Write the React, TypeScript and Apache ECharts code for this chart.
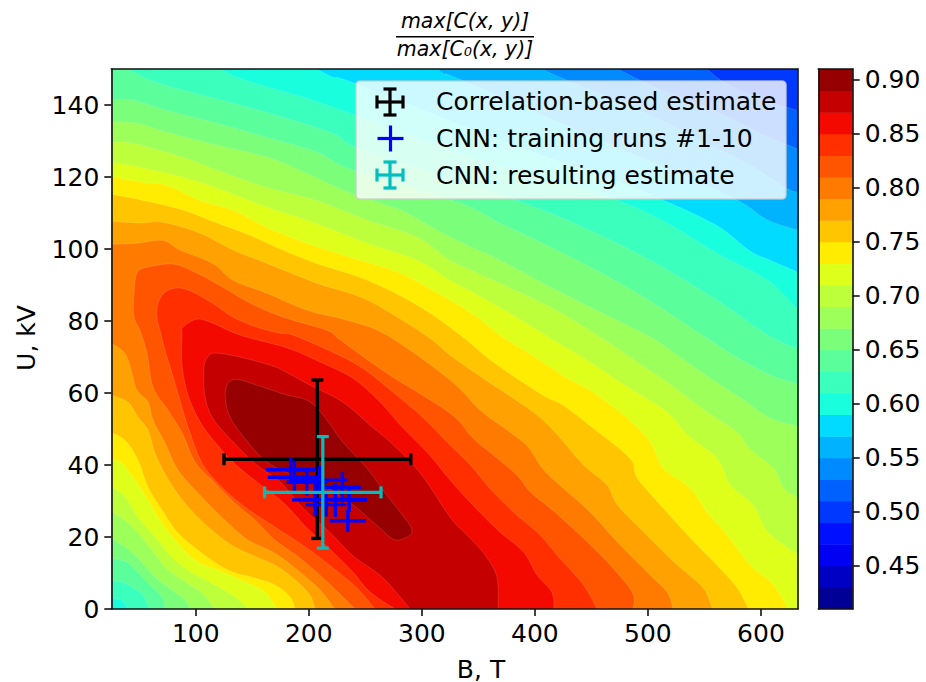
import React, { useEffect, useRef } from "react";
import * as echarts from "echarts";

type Pt = number[];

const B_MIN = 25.3;
const B_MAX = 632.5;
const U_MIN = 0;
const U_MAX = 150;
const CBAR_MIN = 0.41;
const CBAR_MAX = 0.91;

const xTickValues = [100, 200, 300, 400, 500, 600];
const yTickValues = [0, 20, 40, 60, 80, 100, 120, 140];
const cbarTickValues = [0.45, 0.5, 0.55, 0.6, 0.65, 0.7, 0.75, 0.8, 0.85, 0.9];
const levels = [
  0.41, 0.43, 0.45, 0.47, 0.49, 0.51, 0.53, 0.55, 0.57, 0.59, 0.61, 0.63, 0.65,
  0.67, 0.69, 0.71, 0.73, 0.75, 0.77, 0.79, 0.81, 0.83, 0.85, 0.87, 0.89, 0.91,
];

// Contours, as [B, U]
const c51: Pt[] = [[552, 150], [567, 146.3], [588, 143.2], [611, 140.5], [633, 138.5]];
const c53: Pt[] = [[473, 150], [502, 145.5], [529, 142.1], [573, 136.3], [599, 132.1], [633, 127.7]];
const c55: Pt[] = [[407, 150], [422, 147.7], [493, 138.5], [546, 130.2], [590, 123.3], [623, 116.8], [633, 115.8]];
const c57: Pt[] = [[313.5, 150], [322, 148.2], [334, 147.1], [458, 130.2], [546, 118.5], [584, 112.7], [606, 108], [633, 105.2]];
const c59: Pt[] = [[207, 150], [221.5, 147.7], [241, 146], [369, 130.2], [458, 120.5], [514, 113.5], [561, 106.5], [590, 99.5], [608, 96.9], [633, 93.5]];
const c61: Pt[] = [[121.5, 150], [139, 147.4], [168, 144.6], [198.5, 141.8], [234, 138], [325, 127.4], [414, 119.1], [473, 113.5], [517, 107.2], [561, 98.8], [606, 91.3], [633, 83]];
const c61low: Pt[] = [[40, 0], [34.8, 2.5], [25.3, 3.1]];
const c63: Pt[] = [[40, 150], [59.6, 146.9], [88.8, 144.1], [133, 140.5], [177, 136.6], [221.5, 132.1], [241, 128.3], [307, 121.3], [384, 113.5], [443, 106], [502, 96.9], [561, 85.8], [606, 76.1], [633, 72.2]];
const c63low: Pt[] = [[59.6, 0], [52.5, 4.4], [37.4, 7.2], [25.3, 8.1]];
const c65: Pt[] = [[25.3, 141.6], [44.5, 141.3], [74.6, 138.5], [119, 134.9], [163, 131], [207, 126.9], [239, 121.9], [334, 112.7], [369, 107.2], [414, 100.5], [458, 93.5], [502, 85.5], [548, 76.1], [575.5, 70.5], [608, 65], [633, 62.5]];
const c65low: Pt[] = [[72.8, 0], [70.2, 3.3], [55.1, 8.1], [40, 12.8], [25.3, 14.2]];
const c67: Pt[] = [[25.3, 135.2], [48, 134.9], [74.6, 132.4], [119, 128.8], [163, 125.5], [198.5, 121], [236.6, 115.5], [281, 110.8], [325, 103.3], [369, 96.9], [414, 89.4], [458, 82.4], [499, 76.1], [526, 70.5], [555, 64.1], [582, 58.6], [608, 53], [633, 50.8]];
const c67low: Pt[] = [[95, 0], [90.5, 2.5], [79, 5.3], [63.9, 8.9], [48.9, 14.2], [37.4, 17.2], [25.3, 19.7]];
const c69: Pt[] = [[25.3, 129.6], [44.5, 129.4], [88.8, 125.5], [119, 121.9], [163, 117.1], [207, 113.5], [252, 108], [296, 103.3], [325, 96.9], [369, 90.5], [414, 83.8], [455, 76.1], [490.5, 68.6], [517, 63], [552.5, 54.7], [579, 49.1], [590, 44.5], [611, 39.1], [620, 33.6], [633, 30.8]];
const c69low: Pt[] = [[117, 0], [105.6, 4.4], [87.9, 8.1], [72.8, 11.7], [61.3, 16.4], [48.9, 21.1], [37.4, 24.7], [25.3, 26.9]];
const c71: Pt[] = [[25.3, 124.1], [50.7, 122.7], [88.8, 119.9], [119, 116.9], [163, 111.6], [198.5, 108], [252, 101.6], [296, 96.9], [325, 91.3], [369, 83.8], [409, 76.1], [443, 69.7], [484, 61.3], [517, 54.7], [535, 48.3], [561, 41.9], [573, 34.4], [593, 28.9], [606, 21.4], [633, 15]];
const c71low: Pt[] = [[146.3, 0], [134.8, 3.3], [117, 6.7], [96.7, 10], [79, 14.4], [64, 20], [48.9, 25.5], [37.4, 31.1], [25.3, 34.1]];
const c73: Pt[] = [[25.3, 120.2], [53.4, 118.5], [74.6, 117.7], [103.8, 113.5], [133, 110.8], [163, 106], [198.5, 101.6], [236.6, 97.7], [281, 93.3], [325, 85.8], [349, 81.1], [369, 76.1], [407, 68.6], [428.6, 64.1], [451.6, 60.2], [481.7, 53], [502, 46.4], [513.6, 39.1], [537.5, 33.6], [552.5, 26.9], [570, 20.5], [590.5, 12.2], [611, 6.7], [624, 0]];
const c73low: Pt[] = [[172, 0], [161.3, 4.7], [146.3, 7.2], [123.3, 10.3], [99.4, 13.6], [81.7, 19.2], [68.4, 24.7], [57.8, 30.3], [46.3, 35.8], [34.8, 40.5], [25.3, 41.6]];
const c75: Pt[] = [[25.3, 115.2], [53.4, 113.5], [88.8, 110.8], [119, 107.2], [148, 103.8], [177, 99.7], [207, 96], [252, 91.3], [296, 84.4], [334, 76.1], [363, 68.6], [407, 59.4], [425, 56.6], [451.6, 50.2], [484, 41.9], [490.5, 36.4], [513.6, 28], [537.5, 19.7], [561, 12.2], [579, 5.8], [589, 0]];
const c75low: Pt[] = [[188, 0], [183.5, 3.3], [170, 6.7], [152.5, 8.6], [128.6, 10.8], [105.6, 15.5], [84.3, 21.1], [70.2, 27.5], [57.8, 33.9], [48.9, 41.4], [37.4, 46.9], [25.3, 48.9]];
const c77: Pt[] = [[25.3, 107.7], [50.7, 107.2], [71, 107.4], [103.8, 104.4], [133, 99.7], [163, 96], [207, 90.5], [252, 85.8], [303, 76.1], [325, 70.5], [354, 64.1], [398.5, 54.7], [420, 48.3], [443, 40], [464, 34.4], [473, 28.9], [499, 20.5], [526, 12.2], [549, 5.8], [557, 0]];
const c77low: Pt[] = [[205.6, 0], [201, 3.9], [188, 8.1], [170, 12.2], [134.8, 17.2], [111, 22.8], [90.5, 29.4], [74.6, 36.6], [64, 43.3], [57.8, 49.7], [48.9, 53.3], [40, 57.5], [25.3, 59.4]];
const c79: Pt[] = [[25.3, 101.3], [48, 101.6], [71, 102.4], [86, 99.7], [115, 96], [133, 91.3], [163, 87.7], [198.5, 83], [234, 80.2], [269, 76.1], [325, 63.6], [351.6, 55.2], [375.5, 49.7], [394, 45], [406.5, 39.1], [422, 34.4], [449, 26.9], [473, 18.6], [502, 9.4], [517, 4.7], [522.4, 0]];
const c79low: Pt[] = [[223, 0], [210, 5.3], [192, 10.3], [170, 15.5], [146, 19.2], [123, 25.5], [102, 32.2], [84.3, 38.6], [72.8, 46.1], [62.2, 52.5], [57.8, 57.5], [48, 60.8], [43.6, 65.5], [37.4, 71], [25.3, 73.8]];
const c81: Pt[] = [[241, 0], [214.4, 8.1], [192, 14.2], [170, 19.2], [152.5, 24.7], [134.8, 29.4], [114.4, 35.8], [99.4, 40.8], [87.9, 48.9], [75.5, 55.2], [62.2, 61.6], [56.9, 71], [50.7, 77.4], [45.4, 81.1], [45.4, 87.7], [48, 93.3], [56.9, 94.9], [79.9, 95.8], [101, 93.3], [124, 89.4], [148, 85], [177, 81.1], [216, 77.4], [228, 74.7], [269, 65.5], [325, 54.4], [345, 47.5], [366.6, 41.9], [384, 37.2], [396, 32.5], [413.6, 28], [437, 21.4], [464, 13.1], [486, 4.7], [487, 0]];
const c83: Pt[] = [[258.7, 0], [242.7, 5.8], [221.5, 11.4], [198.5, 16.9], [170, 22.8], [143.6, 28.3], [123, 33.9], [105.6, 40.5], [93.2, 50.5], [86, 58], [79, 65.5], [72.8, 71.9], [68.4, 77.4], [65.7, 81.1], [66.6, 84.9], [72.8, 88], [84.3, 89.2], [97.6, 88], [115, 84.9], [133, 81.1], [154, 78.3], [174.6, 76.6], [186, 76.1], [221.5, 71.3], [248, 66.8], [274.6, 60.2], [298.5, 53.9], [325, 45.5], [342.8, 40], [363, 32.5], [384, 26.1], [404.7, 20.5], [422, 14.1], [443, 6.7], [455, 0]];
const c85: Pt[] = [[276.4, 0], [254.3, 4.7], [239, 10.3], [221.5, 15.8], [198.5, 22.5], [177, 29.7], [154, 35.3], [133, 40.8], [117, 46.4], [103.8, 52], [93.2, 59.4], [87.9, 67.7], [87.9, 76.1], [88.8, 78.3], [101, 80.5], [115, 79.4], [139, 76.1], [181, 72.5], [210, 68.6], [239, 64.1], [263, 57.5], [281, 51.1], [307, 42.7], [325, 35.8], [345, 28.9], [369, 21.4], [390, 15.8], [402, 9.4], [415, 4.7], [417, 0]];
const c87: Pt[] = [[289.6, 0], [265.8, 8.6], [239, 14.8], [219, 21.2], [195, 28], [174.6, 35.3], [154, 40], [133, 46.4], [115, 53], [108, 59.4], [107.3, 66.9], [110, 69.7], [117, 71.1], [139, 70], [166, 67.7], [177, 66.3], [201, 62.2], [230, 57.5], [254, 51.1], [272, 46.4], [298.5, 37.8], [325, 25.5], [340, 20.5], [354, 15.8], [365, 10.3], [367.5, 5.8], [367.5, 0]];
const c89: Pt[] = [[125.9, 60], [128.6, 62.7], [136.5, 63.8], [154, 62.2], [181, 59.4], [198.5, 58], [212.7, 53.9], [230, 46.4], [251.6, 39.1], [269, 31.6], [281, 26.9], [291.4, 21.9], [285, 19.7], [274.6, 19.4], [260, 23.3], [239, 28.9], [216, 33.6], [192, 36.4], [163, 40.8], [139, 49.1], [128.6, 54.7], [125.9, 60]];

const cornerBR: Pt = [B_MAX + 5, U_MIN - 5];
const cornerBL: Pt = [B_MIN - 5, U_MIN - 5];
const cornerTL: Pt = [B_MIN - 5, U_MAX + 5];

// band index -> outline pieces of the region f >= level
const outlines: Record<number, Pt[][]> = {
  5: [c51, [cornerBR, cornerBL, cornerTL]],
  6: [c53, [cornerBR, cornerBL, cornerTL]],
  7: [c55, [cornerBR, cornerBL, cornerTL]],
  8: [c57, [cornerBR, cornerBL, cornerTL]],
  9: [c59, [cornerBR, cornerBL, cornerTL]],
  10: [c61, [cornerBR], c61low, [cornerTL]],
  11: [c63, [cornerBR], c63low, [cornerTL]],
  12: [c65, [cornerBR], c65low],
  13: [c67, [cornerBR], c67low],
  14: [c69, [cornerBR], c69low],
  15: [c71, [cornerBR], c71low],
  16: [c73, c73low],
  17: [c75, c75low],
  18: [c77, c77low],
  19: [c79, c79low],
  20: [c81],
  21: [c83],
  22: [c85],
  23: [c87],
  24: [c89],
};

// Error bars [B, U, dB, dU]
const correlationEstimate = [207.6, 41.6, 82.6, 22];
const cnnEstimate = [212.4, 32.4, 51.5, 15.5];
const cnnRuns: Pt[] = [
  [184, 38.7, 21.7, 3.3],
  [187.3, 36.6, 23.6, 4.6],
  [198.2, 35.2, 17.9, 3.7],
  [209.4, 35.8, 24.6, 3.9],
  [229.7, 33.8, 16.3, 4.2],
  [215.3, 29, 18, 3.3],
  [223.5, 30.3, 27.4, 4.7],
  [205.6, 30.3, 20.4, 4.4],
  [234.5, 24.5, 16.2, 3.1],
  [235.7, 30.3, 15.8, 3.3],
];

const legendLabels = ["Correlation-based estimate", "CNN: training runs #1-10", "CNN: resulting estimate"];
const titleNumerator = "max[C(x, y)]";
const titleDenominator = "max[C₀(x, y)]";
const xName = "B, T";
const yName = "U, kV";

const FONT = "DejaVu Sans";
const BLACK = "#000000";
const BLUE = "#0000ff";
const TEAL = "#00bfbf";

function ramp(t: number, pts: number[][]): number {
  for (let i = 1; i < pts.length; i++) {
    if (t <= pts[i][0]) {
      const [a, va] = pts[i - 1];
      const [b, vb] = pts[i];
      return va + ((t - a) / (b - a)) * (vb - va);
    }
  }
  return pts[pts.length - 1][1];
}
function jet(t: number): string {
  const r = ramp(t, [[0, 0], [0.35, 0], [0.66, 1], [0.89, 1], [1, 0.5]]);
  const g = ramp(t, [[0, 0], [0.125, 0], [0.375, 1], [0.64, 1], [0.91, 0], [1, 0]]);
  const b = ramp(t, [[0, 0.5], [0.11, 1], [0.34, 1], [0.65, 0], [1, 0]]);
  return `rgb(${Math.round(r * 255)},${Math.round(g * 255)},${Math.round(b * 255)})`;
}
const bandColor = (i: number) => jet((i + 0.5) / (levels.length - 1));

function smoothPiece(p: Pt[]): Pt[] {
  if (p.length < 5) return p;
  const out: Pt[] = [];
  const steps = 6;
  for (let i = 0; i < p.length - 1; i++) {
    const p0 = p[Math.max(i - 1, 0)];
    const p1 = p[i];
    const p2 = p[i + 1];
    const p3 = p[Math.min(i + 2, p.length - 1)];
    for (let s = 0; s < steps; s++) {
      const t = s / steps;
      const f = (a: number, b: number, c: number, d: number) =>
        0.5 * (2 * b + (c - a) * t + (2 * a - 5 * b + 4 * c - d) * t * t + (3 * b - a - 3 * c + d) * t * t * t);
      out.push([f(p0[0], p1[0], p2[0], p3[0]), f(p0[1], p1[1], p2[1], p3[1])]);
    }
  }
  out.push(p[p.length - 1]);
  return out;
}

function errorBarShapes(api: any, v: number[], color: string, width: number, cap: number) {
  const c = api.coord([v[0], v[1]]);
  const l = api.coord([v[0] - v[2], v[1]]);
  const r = api.coord([v[0] + v[2], v[1]]);
  const t = api.coord([v[0], v[1] + v[3]]);
  const b = api.coord([v[0], v[1] - v[3]]);
  const style = { stroke: color, lineWidth: width, fill: "none" };
  const seg = (x1: number, y1: number, x2: number, y2: number) => ({
    type: "line",
    shape: { x1, y1, x2, y2 },
    style,
  });
  const out: any[] = [seg(l[0], c[1], r[0], c[1]), seg(c[0], t[1], c[0], b[1])];
  if (cap > 0) {
    out.push(seg(l[0], c[1] - cap, l[0], c[1] + cap), seg(r[0], c[1] - cap, r[0], c[1] + cap));
    out.push(seg(c[0] - cap, t[1], c[0] + cap, t[1]), seg(c[0] - cap, b[1], c[0] + cap, b[1]));
  }
  return out;
}

function legendIcon(x: number, y: number, color: string, hasCaps: boolean, width: number) {
  const half = 13;
  const style = { stroke: color, lineWidth: width };
  const els: any[] = [
    { type: "line", shape: { x1: x - half, y1: y, x2: x + half, y2: y }, style, z: 102 },
    { type: "line", shape: { x1: x, y1: y - half, x2: x, y2: y + half }, style, z: 102 },
  ];
  if (hasCaps) {
    const cap = 6.5;
    els.push(
      { type: "line", shape: { x1: x - half, y1: y - cap, x2: x - half, y2: y + cap }, style, z: 102 },
      { type: "line", shape: { x1: x + half, y1: y - cap, x2: x + half, y2: y + cap }, style, z: 102 },
      { type: "line", shape: { x1: x - cap, y1: y - half, x2: x + cap, y2: y - half }, style, z: 102 },
      { type: "line", shape: { x1: x - cap, y1: y + half, x2: x + cap, y2: y + half }, style, z: 102 },
    );
  }
  return els;
}

export default function App() {
  const ref = useRef<HTMLDivElement>(null);
  useEffect(() => {
    const chart = echarts.init(ref.current!, undefined, { renderer: "svg" });
    const grid0 = { left: 111.3, top: 69, width: 686.4, height: 540 };
    const grid1 = { left: 818.3, top: 69, width: 34.4, height: 540 };
    const axisLine = { show: true, onZero: false, lineStyle: { color: "#111", width: 1.6 } };
    const tickLabel = { color: "#000", fontFamily: FONT, fontSize: 25 };
    const tick = { show: true, length: 7, lineStyle: { color: "#111", width: 1.6 } };
    const bandIdx = Object.keys(outlines).map(Number);

    const option: any = {
      animation: false,
      backgroundColor: "#fff",
      grid: [grid0, grid1],
      xAxis: [
        {
          type: "value", gridIndex: 0, min: B_MIN, max: B_MAX, position: "bottom", z: 20,
          axisLine, splitLine: { show: false },
          axisTick: { ...tick, customValues: xTickValues },
          axisLabel: { ...tickLabel, margin: 12, customValues: xTickValues },
        },
        {
          type: "value", gridIndex: 0, min: B_MIN, max: B_MAX, position: "top", z: 20,
          axisLine, splitLine: { show: false }, axisTick: { show: false }, axisLabel: { show: false },
        },
        {
          type: "value", gridIndex: 1, min: 0, max: 1, position: "bottom", z: 20,
          axisLine, splitLine: { show: false }, axisTick: { show: false }, axisLabel: { show: false },
        },
        {
          type: "value", gridIndex: 1, min: 0, max: 1, position: "top", z: 20,
          axisLine, splitLine: { show: false }, axisTick: { show: false }, axisLabel: { show: false },
        },
      ],
      yAxis: [
        {
          type: "value", gridIndex: 0, min: U_MIN, max: U_MAX, position: "left", z: 20,
          axisLine, splitLine: { show: false },
          axisTick: { ...tick, customValues: yTickValues },
          axisLabel: { ...tickLabel, margin: 12, customValues: yTickValues },
        },
        {
          type: "value", gridIndex: 0, min: U_MIN, max: U_MAX, position: "right", z: 20,
          axisLine, splitLine: { show: false }, axisTick: { show: false }, axisLabel: { show: false },
        },
        {
          type: "value", gridIndex: 1, min: CBAR_MIN, max: CBAR_MAX, position: "left", z: 20,
          axisLine, splitLine: { show: false }, axisTick: { show: false }, axisLabel: { show: false },
        },
        {
          type: "value", gridIndex: 1, min: CBAR_MIN, max: CBAR_MAX, position: "right", z: 20,
          axisLine, splitLine: { show: false },
          axisTick: { ...tick, customValues: cbarTickValues },
          axisLabel: { ...tickLabel, margin: 12, customValues: cbarTickValues, formatter: (v: number) => v.toFixed(2) },
        },
      ],
      series: [
        {
          type: "custom", name: "background", xAxisIndex: 0, yAxisIndex: 0, clip: true, z: 2, silent: true,
          data: [[B_MIN, U_MIN]],
          encode: { x: 0, y: 1 },
          renderItem: (_p: any, api: any) => {
            const a = api.coord([B_MIN, U_MAX]);
            const b = api.coord([B_MAX, U_MIN]);
            return { type: "rect", shape: { x: a[0], y: a[1], width: b[0] - a[0], height: b[1] - a[1] }, style: { fill: bandColor(4) } };
          },
        },
        {
          type: "custom", name: "contours", xAxisIndex: 0, yAxisIndex: 0, clip: true, z: 3, silent: true,
          data: bandIdx.map((i) => [B_MIN, U_MIN, i]),
          encode: { x: 0, y: 1 },
          renderItem: (_p: any, api: any) => {
            const i = api.value(2);
            const pts: number[][] = [];
            outlines[i].forEach((piece) => smoothPiece(piece).forEach((q) => pts.push(api.coord(q))));
            return {
              type: "polygon",
              shape: { points: pts },
              style: { fill: bandColor(i), stroke: "rgba(255,255,255,0.22)", lineWidth: 0.6 },
            };
          },
        },
        {
          type: "custom", name: "Correlation-based estimate", xAxisIndex: 0, yAxisIndex: 0, clip: true, z: 5, silent: true,
          data: [correlationEstimate],
          encode: { x: 0, y: 1 },
          renderItem: (_p: any, api: any) => ({
            type: "group",
            children: errorBarShapes(api, [api.value(0), api.value(1), api.value(2), api.value(3)], BLACK, 3.4, 6),
          }),
        },
        {
          type: "custom", name: "CNN: training runs #1-10", xAxisIndex: 0, yAxisIndex: 0, clip: true, z: 6, silent: true,
          data: cnnRuns,
          encode: { x: 0, y: 1 },
          renderItem: (_p: any, api: any) => ({
            type: "group",
            children: errorBarShapes(api, [api.value(0), api.value(1), api.value(2), api.value(3)], BLUE, 3.4, 0),
          }),
        },
        {
          type: "custom", name: "CNN: resulting estimate", xAxisIndex: 0, yAxisIndex: 0, clip: true, z: 7, silent: true,
          data: [cnnEstimate],
          encode: { x: 0, y: 1 },
          renderItem: (_p: any, api: any) => ({
            type: "group",
            children: errorBarShapes(api, [api.value(0), api.value(1), api.value(2), api.value(3)], TEAL, 3.2, 6),
          }),
        },
        {
          type: "custom", name: "colorbar", xAxisIndex: 2, yAxisIndex: 2, clip: true, z: 3, silent: true,
          data: levels.slice(0, -1).map((lv, i) => [0, lv, i]),
          encode: { x: 0, y: 1 },
          renderItem: (_p: any, api: any) => {
            const i = api.value(2);
            const a = api.coord([0, levels[i + 1]]);
            const b = api.coord([1, levels[i]]);
            return { type: "rect", shape: { x: a[0], y: a[1], width: b[0] - a[0], height: b[1] - a[1] + 0.5 }, style: { fill: bandColor(i) } };
          },
        },
      ],
      graphic: [
        { type: "text", z: 100, x: 465, y: 20.5, style: { text: titleNumerator, font: `italic 20.5px "${FONT}"`, fill: "#000", align: "center", verticalAlign: "middle" } },
        { type: "line", z: 100, shape: { x1: 396, y1: 36.7, x2: 534, y2: 36.7 }, style: { stroke: "#000", lineWidth: 1.6 } },
        { type: "text", z: 100, x: 465, y: 49, style: { text: titleDenominator, font: `italic 20.5px "${FONT}"`, fill: "#000", align: "center", verticalAlign: "middle" } },
        { type: "text", z: 100, x: 481, y: 669, style: { text: xName, font: `25px "${FONT}"`, lineHeight: 22, fill: "#000", align: "center", verticalAlign: "middle" } },
        { type: "text", z: 100, x: 26, y: 338, rotation: Math.PI / 2, style: { text: yName, font: `25px "${FONT}"`, fill: "#000", align: "center", verticalAlign: "middle" } },
        { type: "rect", z: 100, shape: { x: 356, y: 81, width: 430, height: 118, r: 4 }, style: { fill: "rgba(255,255,255,0.8)", stroke: "rgba(204,204,204,0.8)", lineWidth: 1.6 } },
        ...legendIcon(390, 102, BLACK, true, 3.2),
        ...legendIcon(390.5, 138.5, BLUE, false, 3.2),
        ...legendIcon(390, 175, TEAL, true, 3.2),
        ...legendLabels.map((text, i) => ({
          type: "text", z: 102, x: 436, y: [101.5, 138.5, 175][i],
          style: { text, font: `25px "${FONT}"`, fill: "#000", align: "left", verticalAlign: "middle" },
        })),
      ],
    };
    chart.setOption(option);
    return () => chart.dispose();
  }, []);
  return <div ref={ref} style={{ position: "absolute", left: 0, top: 0, width: 926, height: 682 }} />;
}
